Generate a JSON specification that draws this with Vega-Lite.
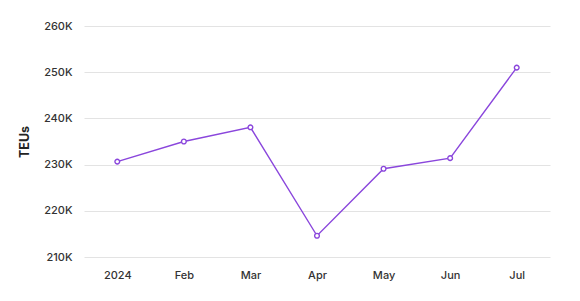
{
  "$schema": "https://vega.github.io/schema/vega-lite/v6.json",
  "width": 466,
  "height": 231,
  "autosize": {"type": "none"},
  "padding": {"left": 84, "top": 26, "right": 30, "bottom": 44},
  "background": "white",
  "config": {"view": {"stroke": null}, "font": "Inter"},
  "data": {
    "values": [
      {"month": "2024", "teu": 230650},
      {"month": "Feb", "teu": 235000},
      {"month": "Mar", "teu": 238070},
      {"month": "Apr", "teu": 214600},
      {"month": "May", "teu": 229100},
      {"month": "Jun", "teu": 231400},
      {"month": "Jul", "teu": 251000}
    ]
  },
  "encoding": {
    "x": {
      "field": "month", "type": "ordinal", "sort": null,
      "scale": {"type": "point", "padding": 0.5},
      "axis": {"title": null, "labelAngle": 0, "domain": false, "ticks": false, "grid": false,
               "labelFont": "Inter", "labelFontSize": 11, "labelFontWeight": 500, "labelColor": "#333", "labelPadding": 12}
    },
    "y": {
      "field": "teu", "type": "quantitative",
      "scale": {"domain": [210000, 260000], "nice": false, "zero": false},
      "axis": {"title": "TEUs", "values": [210000, 220000, 230000, 240000, 250000, 260000],
               "labelOverlap": false, "labelFlush": false,
               "format": "~s", "labelExpr": "replace(datum.label, 'k', 'K')",
               "domain": false, "ticks": false, "gridColor": "#e3e3e3", "gridWidth": 1.2,
               "labelFont": "Inter", "labelFontSize": 11, "labelFontWeight": 500, "labelColor": "#333", "labelPadding": 12,
               "titleFont": "Inter", "titleFontSize": 12.5, "titleFontWeight": "bold", "titleColor": "#222", "titlePadding": 12}
    }
  },
  "layer": [
    {"mark": {"type": "line", "color": "#8a46dc", "strokeWidth": 1.4}},
    {"mark": {"type": "point", "shape": "circle", "filled": true, "fill": "white", "stroke": "#8a46dc", "strokeWidth": 1.4, "size": 22, "opacity": 1}}
  ]
}
